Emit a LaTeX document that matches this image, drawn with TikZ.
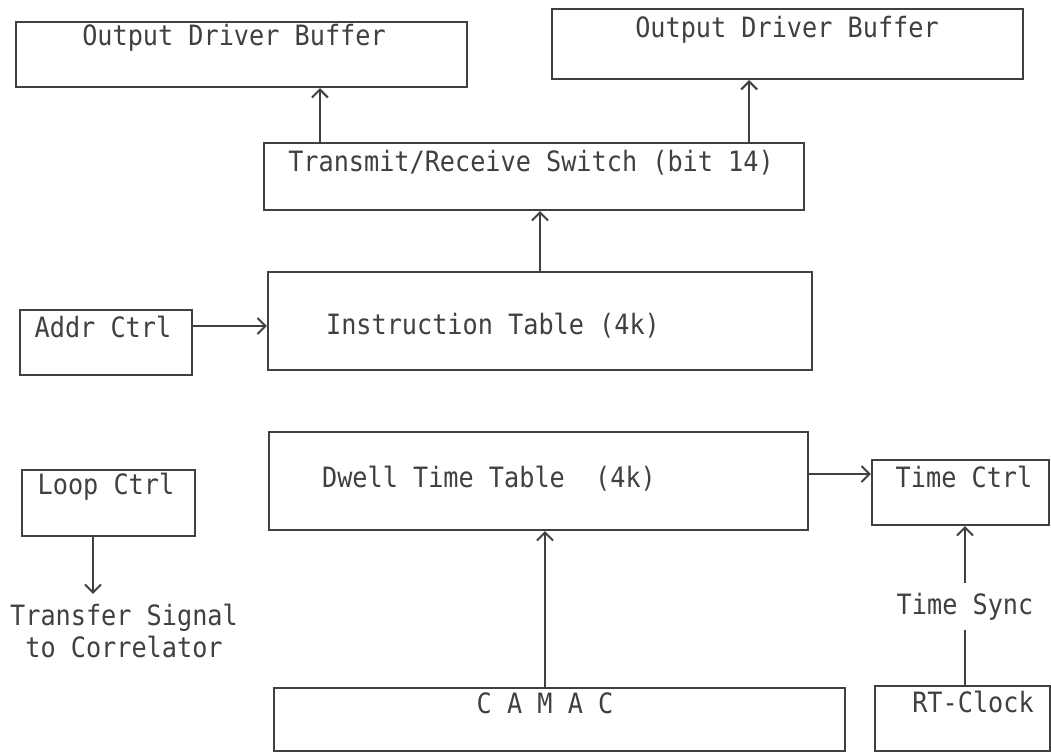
\documentclass[tikz,border=0pt]{standalone}
\usepackage{fontspec}
\setmonofont[FakeStretch=0.9]{DejaVu Sans Mono}
\usetikzlibrary{arrows.meta}
\definecolor{ink}{gray}{0.25}
\begin{document}
\begin{tikzpicture}[x=1pt,y=-1pt,
  box/.style={draw=ink, line width=2.2pt, rectangle, inner sep=0pt},
  lbl/.style={text=ink, font=\ttfamily\fontsize{28}{32}\selectfont, inner sep=0pt, align=center},
  arr/.style={draw=ink, line width=2.2pt, -{Straight Barb[length=8pt,width=16pt,line width=2pt]}},
  ln/.style={draw=ink, line width=2.2pt}
]
\useasboundingbox[fill=white] (0,0) rectangle (1051,753);

% boxes
\node[box, minimum width=451pt, minimum height=65pt] (odbL) at (241.5,54.5) {};
\node[box, minimum width=471pt, minimum height=70pt] (odbR) at (787.5,44) {};
\node[box, minimum width=540pt, minimum height=67pt] (trs) at (534,176.5) {};
\node[box, minimum width=544pt, minimum height=98pt] (instr) at (540,321) {};
\node[box, minimum width=172pt, minimum height=65pt] (addr) at (106,342.5) {};
\node[box, minimum width=539pt, minimum height=98pt] (dwell) at (538.5,481) {};
\node[box, minimum width=177pt, minimum height=65pt] (tctrl) at (960.5,492.5) {};
\node[box, minimum width=173pt, minimum height=66pt] (loop) at (108.5,503) {};
\node[box, minimum width=571pt, minimum height=63pt] (camac) at (559.5,719.5) {};
\node[box, minimum width=175pt, minimum height=65pt] (rtc) at (962.5,718.5) {};

% texts
\node[lbl] (odbLt) at (234,38) {Output Driver Buffer};
\node[lbl] (odbRt) at (787,30) {Output Driver Buffer};
\node[lbl] (trst) at (531,163) {Transmit/Receive Switch (bit 14)};
\node[lbl] (instrt) at (493,326) {Instruction Table (4k)};
\node[lbl] (addrt) at (103,327) {Addr Ctrl};
\node[lbl] (dwellt) at (489,479) {Dwell Time Table\ \ (4k)};
\node[lbl] (tctrlt) at (964,477) {Time Ctrl};
\node[lbl] (loopt) at (106,487) {Loop Ctrl};
\node[lbl] (camact) at (545,703) {C A M A C};
\node[lbl] (rtct) at (973,702) {RT-Clock};
\node[lbl, inner ysep=10pt] (transfer) at (124,631) {Transfer Signal\\to Correlator};
\node[lbl, minimum height=47pt] (tsync) at (965,606.5) {Time Sync};

% connectors
\draw[arr] ([xshift=57pt]trs.north west) -- ([xshift=57pt]trs.north west |- odbL.south);
\draw[arr] ([xshift=-56pt]trs.north east) -- ([xshift=-56pt]trs.north east |- odbR.south);
\draw[arr] (instr.north) -- (instr.north |- trs.south);
\draw[arr] ([yshift=16.5pt]addr.east) -- ([yshift=16.5pt]addr.east -| instr.west);
\draw[arr] ([yshift=7pt]dwell.east) -- ([yshift=7pt]dwell.east -| tctrl.west);
\draw[arr] ([xshift=-14.5pt]camac.north) -- ([xshift=-14.5pt]camac.north |- dwell.south);
\draw[arr] ([xshift=-15.5pt]loop.south) -- ([xshift=-15.5pt]loop.south |- transfer.north);
\draw[ln] (rtc.north -| tsync.south) -- (tsync.south);
\draw[arr] (tsync.north) -- (tsync.north |- tctrl.south);
\end{tikzpicture}
\end{document}
